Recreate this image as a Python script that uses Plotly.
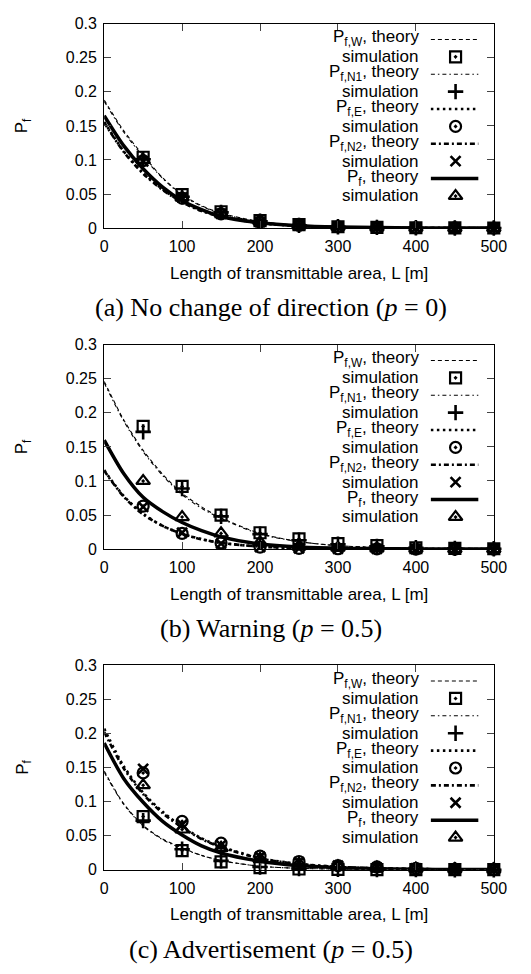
import plotly.graph_objects as go

# ---------------- data ----------------
L_theory = [0, 25, 50, 75, 100, 125, 150, 200, 250, 300, 350, 400, 450, 500]
L_sim = [50, 100, 150, 200, 250, 300, 350, 400, 450, 500]

# (a) No change of direction (p = 0)
a_W_th = [0.188, 0.143, 0.107, 0.074, 0.049, 0.033, 0.022, 0.0095, 0.0042, 0.0019, 0.0009, 0.0004, 0.0002, 0.0001]
a_N1_th = [0.186, 0.141, 0.105, 0.073, 0.048, 0.032, 0.021, 0.0093, 0.0041, 0.0018, 0.0008, 0.0004, 0.0002, 0.0001]
a_E_th = [0.156, 0.113, 0.081, 0.057, 0.038, 0.026, 0.017, 0.0075, 0.0033, 0.0015, 0.0007, 0.0003, 0.00015, 0.0001]
a_N2_th = [0.155, 0.112, 0.080, 0.056, 0.038, 0.025, 0.017, 0.0074, 0.0033, 0.0015, 0.0007, 0.0003, 0.00015, 0.0001]
a_P_th = [0.165, 0.121, 0.087, 0.060, 0.040, 0.027, 0.017, 0.0078, 0.0035, 0.0016, 0.0007, 0.0003, 0.00015, 0.0001]
a_W_sim = [0.104, 0.049, 0.024, 0.011, 0.005, 0.002, 0.001, 0.0005, 0.0003, 0.0001]
a_N1_sim = [0.101, 0.046, 0.023, 0.010, 0.004, 0.002, 0.001, 0.0005, 0.0002, 0.0001]
a_E_sim = [0.099, 0.044, 0.021, 0.009, 0.004, 0.002, 0.001, 0.0004, 0.0002, 0.0001]
a_N2_sim = [0.098, 0.045, 0.021, 0.009, 0.004, 0.002, 0.001, 0.0004, 0.0002, 0.0001]
a_P_sim = [0.100, 0.045, 0.022, 0.010, 0.004, 0.002, 0.001, 0.0005, 0.0002, 0.0001]

# (b) Warning (p = 0.5)
b_W_th = [0.246, 0.190, 0.145, 0.110, 0.082, 0.062, 0.046, 0.023, 0.011, 0.005, 0.0025, 0.0012, 0.0006, 0.0003]
b_N1_th = [0.244, 0.188, 0.143, 0.108, 0.080, 0.060, 0.045, 0.022, 0.011, 0.005, 0.0025, 0.0012, 0.0006, 0.0003]
b_E_th = [0.116, 0.078, 0.052, 0.034, 0.0226, 0.0145, 0.0092, 0.0036, 0.0015, 0.0006, 0.0003, 0.0001, 0.00005, 0.00002]
b_N2_th = [0.115, 0.077, 0.051, 0.034, 0.0224, 0.0144, 0.0091, 0.0036, 0.0015, 0.0006, 0.0003, 0.0001, 0.00005, 0.00002]
b_P_th = [0.160, 0.111, 0.076, 0.055, 0.039, 0.027, 0.018, 0.0075, 0.003, 0.0013, 0.0006, 0.0003, 0.0001, 0.00005]
b_W_sim = [0.180, 0.092, 0.050, 0.024, 0.015, 0.008, 0.005, 0.002, 0.001, 0.0005]
b_N1_sim = [0.172, 0.089, 0.048, 0.022, 0.013, 0.007, 0.004, 0.002, 0.001, 0.0005]
b_E_sim = [0.063, 0.023, 0.009, 0.003, 0.001, 0.0005, 0.0002, 0.0001, 0.0, 0.0]
b_N2_sim = [0.062, 0.024, 0.008, 0.003, 0.001, 0.0005, 0.0002, 0.0001, 0.0, 0.0]
b_P_sim = [0.100, 0.047, 0.023, 0.010, 0.004, 0.002, 0.001, 0.0005, 0.0002, 0.0001]

# (c) Advertisement (p = 0.5)
c_W_th = [0.145, 0.097, 0.065, 0.045, 0.032, 0.021, 0.0135, 0.005, 0.002, 0.0008, 0.0003, 0.0001, 0.00005, 0.00002]
c_N1_th = [0.143, 0.096, 0.064, 0.044, 0.031, 0.021, 0.0133, 0.005, 0.002, 0.0008, 0.0003, 0.0001, 0.00005, 0.00002]
c_E_th = [0.207, 0.152, 0.113, 0.085, 0.063, 0.046, 0.034, 0.017, 0.0085, 0.0042, 0.002, 0.001, 0.0005, 0.0003]
c_N2_th = [0.202, 0.149, 0.111, 0.083, 0.062, 0.045, 0.033, 0.0165, 0.0083, 0.0041, 0.002, 0.001, 0.0005, 0.0003]
c_P_th = [0.186, 0.134, 0.099, 0.071, 0.051, 0.035, 0.0245, 0.0125, 0.006, 0.003, 0.0015, 0.0007, 0.0003, 0.0002]
c_W_sim = [0.078, 0.028, 0.0115, 0.003, 0.001, 0.0005, 0.0002, 0.0001, 0.0, 0.0]
c_N1_sim = [0.072, 0.030, 0.013, 0.004, 0.0015, 0.0006, 0.0003, 0.0001, 0.0, 0.0]
c_E_sim = [0.142, 0.071, 0.039, 0.020, 0.012, 0.006, 0.004, 0.002, 0.001, 0.0005]
c_N2_sim = [0.148, 0.066, 0.036, 0.019, 0.011, 0.006, 0.003, 0.002, 0.001, 0.0005]
c_P_sim = [0.124, 0.059, 0.032, 0.016, 0.009, 0.005, 0.003, 0.0015, 0.0008, 0.0004]

series_labels = ["P<sub>f,W</sub>, theory", "P<sub>f,N1</sub>, theory", "P<sub>f,E</sub>, theory",
                 "P<sub>f,N2</sub>, theory", "P<sub>f</sub>, theory"]
sim_label = "simulation"
captions = ["(a) No change of direction (<i>p</i> = 0)", "(b) Warning (<i>p</i> = 0.5)",
            "(c) Advertisement (<i>p</i> = 0.5)"]
x_title = "Length of transmittable area, L [m]"
y_title = "P<sub>f</sub>"
x_ticks = [0, 100, 200, 300, 400, 500]
y_ticks = [0, 0.05, 0.1, 0.15, 0.2, 0.25, 0.3]

panels = [
    ([a_W_th, a_N1_th, a_E_th, a_N2_th, a_P_th], [a_W_sim, a_N1_sim, a_E_sim, a_N2_sim, a_P_sim]),
    ([b_W_th, b_N1_th, b_E_th, b_N2_th, b_P_th], [b_W_sim, b_N1_sim, b_E_sim, b_N2_sim, b_P_sim]),
    ([c_W_th, c_N1_th, c_E_th, c_N2_th, c_P_th], [c_W_sim, c_N1_sim, c_E_sim, c_N2_sim, c_P_sim]),
]

# ---------------- styles ----------------
W, H = 531, 974
line_styles = [
    dict(width=1.1, dash="4px,3px"),
    dict(width=1.1, dash="4px,3px,1.5px,3px"),
    dict(width=2.6, dash="2.5px,3.5px"),
    dict(width=2.6, dash="5px,3px,2px,3px"),
    dict(width=3.5, dash="solid"),
]
marker_styles = [
    dict(symbol="square-open-dot", size=11, line=dict(width=2.2, color="black")),
    dict(symbol="cross-thin", size=11, line=dict(width=2.6, color="black")),
    dict(symbol="circle-open-dot", size=11, line=dict(width=2.2, color="black")),
    dict(symbol="x-thin", size=10, line=dict(width=2.6, color="black")),
    dict(symbol="triangle-up-open-dot", size=12, line=dict(width=2.2, color="black")),
]

px_left, px_right = 103.5, 506
panel_tops = [16, 342.7, 669]
panel_h = 208
row_gap = 17.7
FONT = "Liberation Sans, Arial, sans-serif"
SERIF = "Liberation Serif, Times New Roman, serif"
TICK_SIZE = 16
TEXT_SIZE = 17

fig = go.Figure()
layout = dict(width=W, height=H, margin=dict(l=0, r=0, t=0, b=0),
              paper_bgcolor="white", plot_bgcolor="white", showlegend=False,
              font=dict(family=FONT, size=TEXT_SIZE, color="black"))
annotations = []

xdom = [px_left / W, px_right / W]
for i, (ths, sims) in enumerate(panels):
    top = panel_tops[i]
    bot = top + panel_h
    ydom = [1 - bot / H, 1 - top / H]
    n = i + 1
    xa = "x" if n == 1 else f"x{n}"
    ya = "y" if n == 1 else f"y{n}"
    kx = "xaxis" if n == 1 else f"xaxis{n}"
    ky = "yaxis" if n == 1 else f"yaxis{n}"
    layout[kx] = dict(domain=xdom, range=[0, 500], anchor=ya, tickvals=x_ticks,
                      ticks="inside", ticklen=7, tickwidth=1, mirror="ticks",
                      showline=True, linewidth=1.2, linecolor="black", showgrid=False,
                      zeroline=False, tickfont=dict(size=TICK_SIZE), ticklabelstandoff=4)
    layout[ky] = dict(domain=ydom, range=[0, 0.3], anchor=xa, tickvals=y_ticks,
                      ticks="inside", ticklen=7, tickwidth=1, mirror="ticks",
                      showline=True, linewidth=1.2, linecolor="black", showgrid=False,
                      zeroline=False, tickfont=dict(size=TICK_SIZE), ticklabelstandoff=3)
    # theory curves
    for k in range(5):
        fig.add_trace(go.Scatter(x=L_theory, y=ths[k], mode="lines", xaxis=xa, yaxis=ya,
                                 line=dict(color="black", shape="spline", smoothing=0.8,
                                           **line_styles[k])))
    # simulation markers
    for k in range(5):
        fig.add_trace(go.Scatter(x=L_sim, y=sims[k], mode="markers", xaxis=xa, yaxis=ya,
                                 cliponaxis=False,
                                 marker=dict(color="black", **marker_styles[k])))
    # legend samples drawn on a hidden overlay axis pair spanning the panel
    m = n + 3
    lxa, lya = f"x{m}", f"y{m}"
    layout[f"xaxis{m}"] = dict(overlaying=xa, range=[0, 1], anchor=lya, visible=False, fixedrange=True)
    layout[f"yaxis{m}"] = dict(overlaying=ya, range=[0, 1], anchor=lxa, visible=False, fixedrange=True)
    lx0 = (441 - px_left) / (px_right - px_left)
    lx1 = (490 - px_left) / (px_right - px_left)
    lxm = (466.5 - px_left) / (px_right - px_left)
    for k in range(5):
        r_th = 2 * k
        r_sim = 2 * k + 1
        y_th = 1 - (16 + row_gap * r_th) / panel_h
        y_sim = 1 - (16 + row_gap * r_sim) / panel_h
        fig.add_trace(go.Scatter(x=[lx0, lx1], y=[y_th, y_th], mode="lines", xaxis=lxa, yaxis=lya,
                                 line=dict(color="black", **line_styles[k])))
        fig.add_trace(go.Scatter(x=[lxm], y=[y_sim], mode="markers", xaxis=lxa, yaxis=lya,
                                 marker=dict(color="black", **marker_styles[k])))
        annotations.append(dict(text=series_labels[k], xref="paper", yref="paper",
                                x=431 / W, y=1 - (top + 16 + row_gap * r_th) / H,
                                xanchor="right", yanchor="middle", yshift=1, showarrow=False,
                                font=dict(size=TEXT_SIZE, family=FONT)))
        annotations.append(dict(text=sim_label, xref="paper", yref="paper",
                                x=431 / W, y=1 - (top + 16 + row_gap * r_sim) / H,
                                xanchor="right", yanchor="middle", showarrow=False,
                                font=dict(size=TEXT_SIZE, family=FONT)))
    # axis titles and caption
    annotations.append(dict(text=x_title, xref="paper", yref="paper", x=(px_left + px_right) / 2 / W,
                            y=1 - (bot + 46) / H, xanchor="center", yanchor="middle",
                            showarrow=False, font=dict(size=TEXT_SIZE, family=FONT)))
    annotations.append(dict(text=y_title, xref="paper", yref="paper", x=20 / W,
                            y=1 - (top + panel_h / 2) / H, xanchor="center", yanchor="middle",
                            textangle=-90, showarrow=False, font=dict(size=TEXT_SIZE, family=FONT)))
    annotations.append(dict(text=captions[i], xref="paper", yref="paper", x=276 / W,
                            y=1 - (bot + 81) / H, xanchor="center", yanchor="middle",
                            showarrow=False, font=dict(size=26, family=SERIF)))

layout["annotations"] = annotations
fig.update_layout(**layout)
fig.write_html("out.html", config={"displayModeBar": False},
               post_script="document.body.style.margin='0';document.body.style.overflow='hidden';")
